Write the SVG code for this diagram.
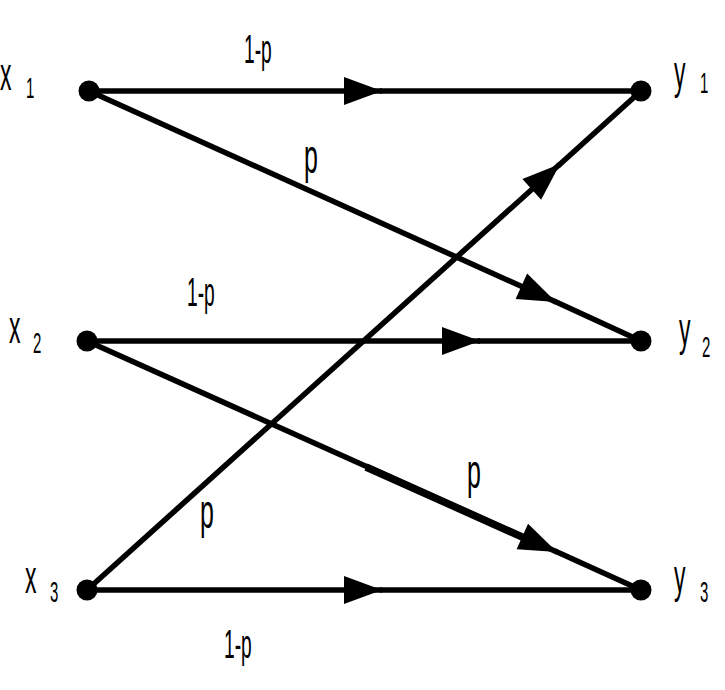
<svg xmlns="http://www.w3.org/2000/svg" width="725" height="690" viewBox="0 0 725 690">
<style>
.e{stroke:#000;stroke-width:5.5;fill:none}
.a{stroke:#000;stroke-width:5.5;fill:none;marker-end:url(#arr)}
.n{fill:#000}
.t{font-family:"Liberation Sans",Arial,sans-serif;fill:#000}
.v{font-size:46px}
.s{font-size:30px}
.l{font-size:40px}
.p{font-size:48px}
</style>
<defs>
<marker id="arr" markerUnits="userSpaceOnUse" markerWidth="42" markerHeight="30" refX="38" refY="14" orient="auto" overflow="visible">
<path d="M0,0 L38,14 L0,28 Z" fill="#000"/>
</marker>
</defs>
<rect width="725" height="690" fill="#fff"/>
<g id="connectors">
<path class="a" d="M89,91 L382,91"/><path class="e" d="M380,91 L641,91"/>
<path class="a" d="M89,91 L556,302"/><path class="e" d="M554,301 L641,341"/>
<path class="a" d="M87,341 L480,341"/><path class="e" d="M478,341 L641,341"/>
<path class="a" d="M87,341 L557,552"/><path class="e" d="M555,551 L641,590"/>
<path style="stroke:#000;stroke-width:7.5" d="M366,467 L540,545"/>
<path class="a" d="M87,590 L560,164"/><path class="e" d="M558,166 L641,91"/>
<path class="a" d="M87,590 L382,590"/><path class="e" d="M380,590 L641,590"/>
</g>
<g id="labels">
<text class="t l" transform="matrix(0.48,0,0,1,244,63)">1-p</text>
<text class="t p" transform="matrix(0.52,0,0,1,304,173)">p</text>
<text class="t l" transform="matrix(0.48,0,0,1,187,306)">1-p</text>
<text class="t p" transform="matrix(0.52,0,0,1,467,488)">p</text>
<text class="t p" transform="matrix(0.52,0,0,1,200,528)">p</text>
<text class="t l" transform="matrix(0.48,0,0,1,224,658)">1-p</text>
</g>
<g id="x1"><circle class="n" cx="89" cy="91" r="10.5"/>
<text class="t v" transform="matrix(0.5,0,0,1,0,90)">x</text><text class="t s" transform="matrix(0.5,0,0,1,26,98)">1</text></g>
<g id="x2"><circle class="n" cx="87" cy="341" r="10.5"/>
<text class="t v" transform="matrix(0.5,0,0,1,9,343)">x</text><text class="t s" transform="matrix(0.5,0,0,1,33,353)">2</text></g>
<g id="x3"><circle class="n" cx="87" cy="590" r="10.5"/>
<text class="t v" transform="matrix(0.5,0,0,1,25,593)">x</text><text class="t s" transform="matrix(0.5,0,0,1,50,602)">3</text></g>
<g id="y1"><circle class="n" cx="641" cy="91" r="10.5"/>
<text class="t v" transform="matrix(0.5,0,0,1,674,88)">y</text><text class="t s" transform="matrix(0.5,0,0,1,700,93)">1</text></g>
<g id="y2"><circle class="n" cx="641" cy="341" r="10.5"/>
<text class="t v" transform="matrix(0.5,0,0,1,679,345)">y</text><text class="t s" transform="matrix(0.5,0,0,1,702,357)">2</text></g>
<g id="y3"><circle class="n" cx="641" cy="590" r="10.5"/>
<text class="t v" transform="matrix(0.5,0,0,1,674,592)">y</text><text class="t s" transform="matrix(0.5,0,0,1,700,602)">3</text></g>
</svg>
